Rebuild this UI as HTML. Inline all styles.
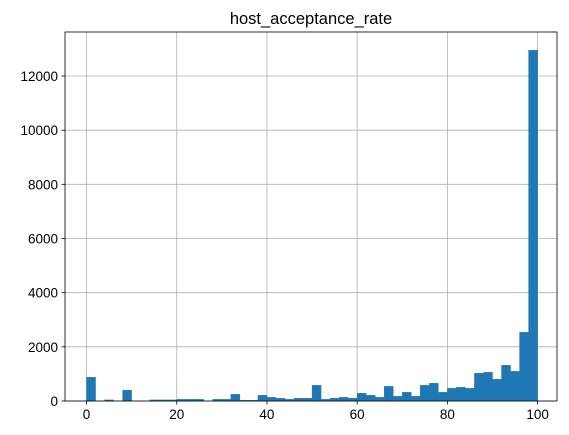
<!DOCTYPE html>
<html><head><meta charset="utf-8"><style>
body{margin:0;background:#fff}
svg{display:block;font-family:"Liberation Sans","DejaVu Sans",sans-serif}
</style></head><body>
<svg id="chart" width="569" height="435">
<g id="grid"></g><g id="bars"></g><g id="axes"></g>
</svg>
<script>
const binStart = 0, binWidth = 2;
const counts = [875,0,40,0,395,0,0,40,40,40,60,60,60,0,60,60,245,30,30,210,135,100,60,100,100,578,60,100,135,100,283,210,135,540,172,320,172,578,653,320,468,505,468,1022,1058,800,1317,1095,2535,12950];
const xTicks = [0,20,40,60,80,100];
const yTicks = [0,2000,4000,6000,8000,10000,12000];
const titleText = "host_acceptance_rate";

const L=65,R=557,T=32,B=401, xmin=-4.77, xmax=104.3, ymax=(B-T)/(B-76)*12000;
const sx=v=>L+(v-xmin)/(xmax-xmin)*(R-L);
const sy=v=>B-v/ymax*(B-T);
const NS="http://www.w3.org/2000/svg";
function mk(tag,attrs,parent){const e=document.createElementNS(NS,tag);for(const k in attrs)e.setAttribute(k,attrs[k]);parent.appendChild(e);return e;}
const grid=document.getElementById('grid'),bars=document.getElementById('bars'),axes=document.getElementById('axes');
xTicks.forEach(t=>{
  const g=mk('line',{x1:sx(t),x2:sx(t),y1:T,y2:B,stroke:'#b0b0b0','stroke-width':0.8},grid);
  
  
  const tk=mk('line',{x1:sx(t),x2:sx(t),y1:B,y2:B+3.5,stroke:'#000','stroke-width':0.8},axes);
  
  
  const lb=mk('text',{x:sx(t),y:B+18,'text-anchor':'middle','font-size':13.5,fill:'#000'},axes);
  lb.textContent=t;
  
  
});
yTicks.forEach(t=>{
  const g=mk('line',{x1:L,x2:R,y1:sy(t),y2:sy(t),stroke:'#b0b0b0','stroke-width':0.8},grid);
  
  
  const tk=mk('line',{x1:L-3.5,x2:L,y1:sy(t),y2:sy(t),stroke:'#000','stroke-width':0.8},axes);
  
  
  const lb=mk('text',{x:L-7,y:sy(t)+5,'text-anchor':'end','font-size':13.5,fill:'#000'},axes);
  lb.textContent=t;
  
  
});
counts.forEach((c,i)=>{
  if(c<=0)return;
  const x0=binStart+i*binWidth,x1=x0+binWidth;
  const r=mk('rect',{x:sx(x0),y:sy(c),width:sx(x1)-sx(x0),height:B-sy(c),fill:'#1f77b4',stroke:'#1f77b4','stroke-width':0.4},bars);
  
  
});
const fr=mk('rect',{x:L,y:T,width:R-L,height:B-T,fill:'none',stroke:'#000','stroke-width':0.8},axes);


const ti=mk('text',{x:(L+R)/2,y:24,'text-anchor':'middle','font-size':16.5,fill:'#000'},axes);
ti.textContent=titleText;


</script>
</body></html>
